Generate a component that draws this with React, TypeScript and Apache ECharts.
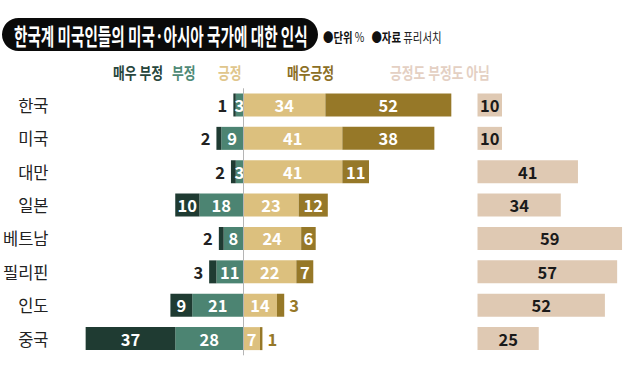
import React, { useEffect, useRef } from "react";
import * as echarts from "echarts";

const categories = ["한국", "미국", "대만", "일본", "베트남", "필리핀", "인도", "중국"];
const veryNegative = [1, 2, 2, 10, 2, 3, 9, 37];
const negative = [3, 9, 3, 18, 8, 11, 21, 28];
const positive = [34, 41, 41, 23, 24, 22, 14, 7];
const veryPositive = [52, 38, 11, 12, 6, 7, 3, 1];
const neither = [10, 10, 41, 34, 59, 57, 52, 25];
const seriesNames = ["매우 부정", "부정", "긍정", "매우긍정", "긍정도 부정도 아님"];
const titleText = "한국계 미국인들의 미국·아시아 국가에 대한 인식";
const unitText = "단위";
const unitValue = "%";
const sourceText = "자료";
const sourceValue = "퓨리서치";

const FONT = "'Noto Sans CJK KR', 'Noto Sans', sans-serif";
const C_VNEG = "#1f3b32";
const C_NEG = "#4c8472";
const C_POS = "#dcc07e";
const C_VPOS = "#967828";
const C_NEI = "#dfc9b3";

export default function App() {
  const ref = useRef<HTMLDivElement>(null);
  useEffect(() => {
    if (!ref.current) return;
    const chart = echarts.init(ref.current, null, { renderer: "svg" });
    const valLabel = {
      show: true,
      position: "inside",
      color: "#fff",
      fontFamily: FONT,
      fontWeight: "bold",
      fontSize: 16.5,
      formatter: (p: any) => String(Math.abs(p.value)),
    };
    const headerStyle = (color: string) => ({
      fill: color,
      font: `bold 16px ${FONT}`,
      textVerticalAlign: "middle",
      textAlign: "left",
    });
    const headerX = [113, 172, 218, 287, 390];
    const headerColors = ["#27463c", "#4f8a76", "#e0c68c", "#8c6f25", "#e4d0c3"];
    const option: any = {
      animation: false,
      backgroundColor: "#fff",
      grid: [
        { left: 69, width: 392, top: 88.3, height: 267 },
        { left: 477.5, width: 147, top: 88.3, height: 267 },
      ],
      xAxis: [
        { type: "value", gridIndex: 0, min: -70, max: 90, show: false },
        { type: "value", gridIndex: 1, min: 0, max: 60, show: false },
      ],
      yAxis: [
        {
          type: "category",
          gridIndex: 0,
          data: categories,
          inverse: true,
          axisLine: { show: false, onZero: false },
          axisTick: { show: false },
          axisLabel: { color: "#222", fontFamily: FONT, fontSize: 16.5, margin: 25 },
        },
        {
          type: "category",
          gridIndex: 1,
          data: categories,
          inverse: true,
          show: false,
        },
      ],
      series: [
        {
          name: seriesNames[1],
          type: "bar",
          stack: "a",
          barWidth: 23,
          itemStyle: { color: C_NEG },
          label: valLabel,
          data: negative.map((v) => -v),
          markLine: {
            silent: true,
            symbol: "none",
            label: { show: false },
            lineStyle: { color: "#b5b5b5", width: 1, type: "solid" },
            data: [{ xAxis: 0 }],
          },
        },
        {
          name: seriesNames[0],
          type: "bar",
          stack: "a",
          barWidth: 23,
          itemStyle: { color: C_VNEG },
          label: valLabel,
          data: veryNegative.map((v) =>
            v <= 3
              ? { value: -v, label: { position: "left", color: "#222", distance: 6 } }
              : { value: -v }
          ),
        },
        {
          name: seriesNames[2],
          type: "bar",
          stack: "a",
          barWidth: 23,
          itemStyle: { color: C_POS },
          label: valLabel,
          data: positive,
        },
        {
          name: seriesNames[3],
          type: "bar",
          stack: "a",
          barWidth: 23,
          itemStyle: { color: C_VPOS },
          label: valLabel,
          data: veryPositive.map((v) =>
            v <= 3
              ? { value: v, label: { position: "right", color: C_VPOS, distance: 5 } }
              : { value: v }
          ),
        },
        {
          name: seriesNames[4],
          type: "bar",
          xAxisIndex: 1,
          yAxisIndex: 1,
          barWidth: 23,
          itemStyle: { color: C_NEI },
          label: { ...valLabel, color: "#1a1a1a" },
          data: neither,
        },
      ],
      graphic: [
        {
          type: "rect",
          shape: { x: 2, y: 18, width: 316, height: 33, r: 16.5 },
          style: { fill: "#0a0a0a" },
        },
        {
          type: "text",
          x: 14,
          y: 35,
          scaleX: 0.635,
          style: {
            text: titleText,
            fill: "#fff",
            font: `bold 23px ${FONT}`,
            textVerticalAlign: "middle",
            textAlign: "left",
          },
        },
        {
          type: "text",
          x: 323,
          y: 36,
          scaleX: 0.8,
          style: {
            text: `{b|●${unitText}} {n|${unitValue}}   {b|●${sourceText}} {n|${sourceValue}}`,
            fill: "#111",
            font: `13px ${FONT}`,
            textVerticalAlign: "middle",
            textAlign: "left",
            rich: {
              b: { fontFamily: FONT, fontSize: 13, fontWeight: "bold", fill: "#111" },
              n: { fontFamily: FONT, fontSize: 13, fill: "#222" },
            },
          },
        },
        ...seriesNames.map((name, i) => ({
          type: "text",
          x: headerX[i],
          y: 72,
          scaleX: 0.8,
          style: { ...headerStyle(headerColors[i]), text: name },
        })),
      ],
    };
    chart.setOption(option);
    return () => chart.dispose();
  }, []);
  return (
    <div
      ref={ref}
      style={{ position: "absolute", left: 0, top: 0, width: 640, height: 368 }}
    />
  );
}
